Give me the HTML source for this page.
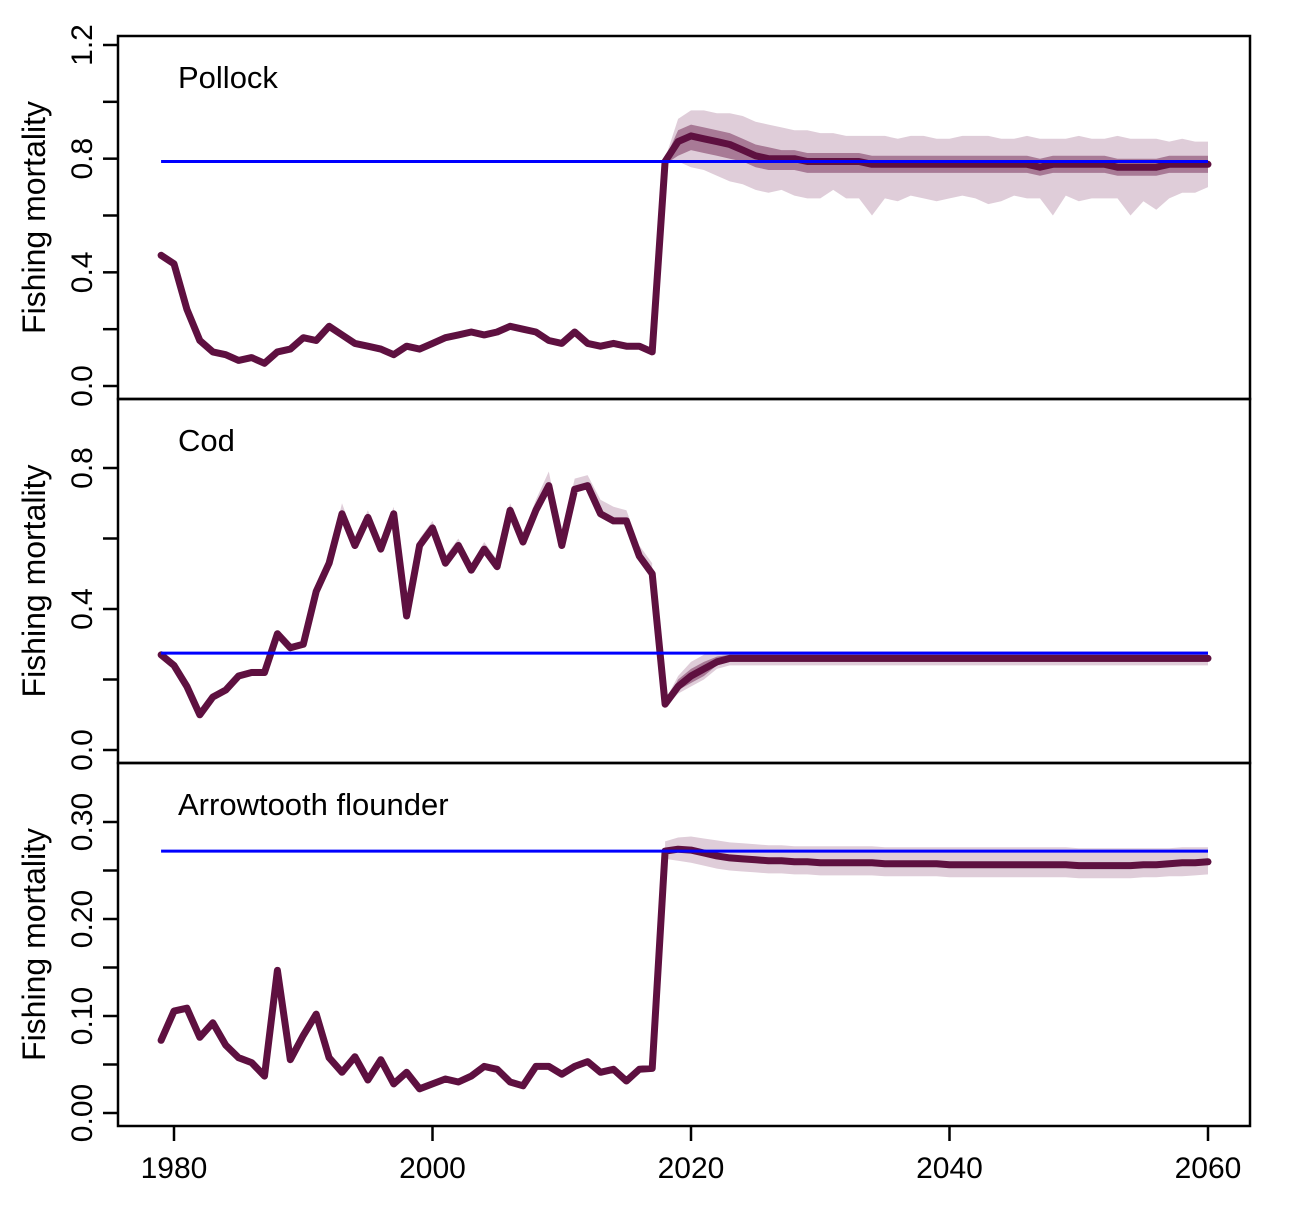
<!DOCTYPE html>
<html><head><meta charset="utf-8"><style>
html,body{margin:0;padding:0;background:#fff;}
svg text{font-family:"Liberation Sans",Arial,sans-serif;fill:#000;}
</style></head><body>
<svg id="chart" width="1290" height="1200" viewBox="0 0 1290 1200" xmlns="http://www.w3.org/2000/svg"></svg>
<script>
const histYears0 = 1979;
const projYears0 = 2018;
const xTicks = [1980, 2000, 2020, 2040, 2060];
const refPollock = 0.79, refCod = 0.275, refArrow = 0.27;

const pollockHist = [0.46,0.43,0.27,0.16,0.12,0.11,0.09,0.10,0.08,0.12,0.13,0.17,0.16,0.21,0.18,0.15,0.14,0.13,0.11,0.14,0.13,0.15,0.17,0.18,0.19,0.18,0.19,0.21,0.20,0.19,0.16,0.15,0.19,0.15,0.14,0.15,0.14,0.14,0.12];
const pollockProj = [0.79,0.86,0.88,0.87,0.86,0.85,0.83,0.81,0.80,0.80,0.80,0.79,0.79,0.79,0.79,0.79,0.78,0.78,0.78,0.78,0.78,0.78,0.78,0.78,0.78,0.78,0.78,0.78,0.78,0.77,0.78,0.78,0.78,0.78,0.78,0.77,0.77,0.77,0.77,0.78,0.78,0.78,0.78];
const pollockHi = [0.80,0.94,0.97,0.97,0.96,0.96,0.95,0.93,0.92,0.91,0.90,0.90,0.89,0.89,0.88,0.88,0.88,0.88,0.87,0.88,0.88,0.87,0.87,0.88,0.88,0.88,0.87,0.87,0.88,0.87,0.87,0.87,0.88,0.87,0.87,0.88,0.87,0.87,0.87,0.86,0.87,0.86,0.86];
const pollockLo = [0.78,0.79,0.77,0.76,0.74,0.72,0.71,0.69,0.68,0.69,0.67,0.66,0.66,0.69,0.66,0.66,0.60,0.66,0.65,0.67,0.66,0.65,0.66,0.67,0.66,0.64,0.65,0.67,0.66,0.66,0.60,0.67,0.65,0.66,0.66,0.66,0.60,0.65,0.62,0.66,0.68,0.68,0.70];
const pollockInHi = [0.80,0.90,0.92,0.91,0.90,0.89,0.87,0.85,0.84,0.83,0.83,0.82,0.82,0.82,0.82,0.82,0.81,0.81,0.81,0.81,0.81,0.81,0.81,0.81,0.81,0.81,0.81,0.81,0.81,0.80,0.81,0.81,0.81,0.81,0.81,0.80,0.80,0.80,0.80,0.81,0.81,0.81,0.81];
const pollockInLo = [0.78,0.81,0.83,0.82,0.81,0.80,0.79,0.77,0.76,0.76,0.76,0.75,0.75,0.75,0.75,0.75,0.75,0.75,0.75,0.75,0.75,0.75,0.75,0.75,0.75,0.75,0.75,0.75,0.75,0.74,0.75,0.75,0.75,0.75,0.75,0.74,0.74,0.74,0.74,0.75,0.75,0.75,0.75];

const codHist = [0.27,0.24,0.18,0.10,0.15,0.17,0.21,0.22,0.22,0.33,0.29,0.30,0.45,0.53,0.67,0.58,0.66,0.57,0.67,0.38,0.58,0.63,0.53,0.58,0.51,0.57,0.52,0.68,0.59,0.68,0.75,0.58,0.74,0.75,0.67,0.65,0.65,0.55,0.50];
const codHistHi = [0.28,0.25,0.19,0.11,0.16,0.18,0.22,0.23,0.23,0.34,0.30,0.31,0.47,0.55,0.70,0.60,0.68,0.59,0.69,0.40,0.60,0.65,0.55,0.60,0.53,0.59,0.54,0.70,0.61,0.71,0.79,0.61,0.77,0.78,0.71,0.69,0.68,0.58,0.53];
const codProj = [0.13,0.18,0.21,0.23,0.25,0.26,0.26,0.26,0.26,0.26,0.26,0.26,0.26,0.26,0.26,0.26,0.26,0.26,0.26,0.26,0.26,0.26,0.26,0.26,0.26,0.26,0.26,0.26,0.26,0.26,0.26,0.26,0.26,0.26,0.26,0.26,0.26,0.26,0.26,0.26,0.26,0.26,0.26];
const codHi = [0.14,0.21,0.25,0.27,0.28,0.28,0.28,0.28,0.28,0.28,0.28,0.28,0.28,0.28,0.28,0.28,0.28,0.28,0.28,0.28,0.28,0.28,0.28,0.28,0.28,0.28,0.28,0.28,0.28,0.28,0.28,0.28,0.28,0.28,0.28,0.28,0.28,0.28,0.28,0.28,0.28,0.28,0.28];
const codLo = [0.12,0.16,0.18,0.20,0.23,0.24,0.24,0.24,0.24,0.24,0.24,0.24,0.24,0.24,0.24,0.24,0.24,0.24,0.24,0.24,0.24,0.24,0.24,0.24,0.24,0.24,0.24,0.24,0.24,0.24,0.24,0.24,0.24,0.24,0.24,0.24,0.24,0.24,0.24,0.24,0.24,0.24,0.24];
const codInHi = [0.13,0.20,0.23,0.25,0.265,0.27,0.27,0.27,0.27,0.27,0.27,0.27,0.27,0.27,0.27,0.27,0.27,0.27,0.27,0.27,0.27,0.27,0.27,0.27,0.27,0.27,0.27,0.27,0.27,0.27,0.27,0.27,0.27,0.27,0.27,0.27,0.27,0.27,0.27,0.27,0.27,0.27,0.27];
const codInLo = [0.12,0.17,0.19,0.21,0.24,0.25,0.25,0.25,0.25,0.25,0.25,0.25,0.25,0.25,0.25,0.25,0.25,0.25,0.25,0.25,0.25,0.25,0.25,0.25,0.25,0.25,0.25,0.25,0.25,0.25,0.25,0.25,0.25,0.25,0.25,0.25,0.25,0.25,0.25,0.25,0.25,0.25,0.25];

const arrowHist = [0.075,0.105,0.108,0.078,0.093,0.070,0.057,0.052,0.038,0.147,0.055,0.080,0.102,0.057,0.042,0.058,0.034,0.055,0.030,0.042,0.025,0.030,0.035,0.032,0.038,0.048,0.045,0.032,0.028,0.048,0.048,0.040,0.048,0.053,0.042,0.045,0.033,0.045,0.046];
const arrowProj = [0.270,0.272,0.271,0.268,0.265,0.263,0.262,0.261,0.260,0.260,0.259,0.259,0.258,0.258,0.258,0.258,0.258,0.257,0.257,0.257,0.257,0.257,0.256,0.256,0.256,0.256,0.256,0.256,0.256,0.256,0.256,0.256,0.255,0.255,0.255,0.255,0.255,0.256,0.256,0.257,0.258,0.258,0.259];
const arrowHi = [0.280,0.284,0.285,0.283,0.281,0.279,0.278,0.277,0.276,0.276,0.275,0.275,0.275,0.275,0.275,0.275,0.275,0.274,0.274,0.274,0.274,0.274,0.274,0.274,0.274,0.274,0.274,0.274,0.274,0.274,0.274,0.274,0.273,0.273,0.273,0.273,0.273,0.273,0.273,0.273,0.274,0.274,0.274];
const arrowLo = [0.262,0.260,0.258,0.255,0.252,0.250,0.249,0.248,0.247,0.247,0.246,0.246,0.245,0.245,0.245,0.245,0.245,0.244,0.244,0.244,0.244,0.244,0.243,0.243,0.243,0.243,0.243,0.243,0.243,0.243,0.243,0.243,0.242,0.242,0.242,0.242,0.242,0.243,0.243,0.244,0.244,0.245,0.246];

const svg = document.getElementById('chart');
const NS = 'http://www.w3.org/2000/svg';
const X0 = 118, X1 = 1250;
function xS(year){ return 174 + (year - 1980) * (1208 - 174) / 80; }
function mk(tag, attrs, parent){
  const e = document.createElementNS(NS, tag);
  for (const k in attrs) e.setAttribute(k, attrs[k]);
  (parent || svg).appendChild(e);
  return e;
}
function linePath(y0, vals, yS){ return vals.map((v,i)=>(i?'L':'M')+xS(y0+i).toFixed(1)+','+yS(v).toFixed(1)).join(''); }
function bandPath(y0, hi, lo, yS){
  let d = hi.map((v,i)=>(i?'L':'M')+xS(y0+i).toFixed(1)+','+yS(v).toFixed(1)).join('');
  for (let i=lo.length-1;i>=0;i--) d += 'L'+xS(y0+i).toFixed(1)+','+yS(lo[i]).toFixed(1);
  return d+'Z';
}

const panels = [
  {name:'pollock', title:'Pollock', top:36, bot:399, y0px:386, yMax:1.2, yMaxPx:45, ticks:[0,0.2,0.4,0.6,0.8,1.0,1.2], labels:[[0,'0.0'],[0.4,'0.4'],[0.8,'0.8'],[1.2,'1.2']],
   hist:pollockHist, proj:pollockProj, hi:pollockHi, lo:pollockLo, inHi:pollockInHi, inLo:pollockInLo, ref:refPollock},
  {name:'cod', title:'Cod', top:399, bot:763, y0px:750, yMax:0.8, yMaxPx:468, ticks:[0,0.2,0.4,0.6,0.8], labels:[[0,'0.0'],[0.4,'0.4'],[0.8,'0.8']],
   hist:codHist, proj:codProj, hi:codHi, lo:codLo, inHi:codInHi, inLo:codInLo, ref:refCod},
  {name:'arrowtooth', title:'Arrowtooth flounder', top:763, bot:1126, y0px:1113, yMax:0.30, yMaxPx:822, ticks:[0,0.05,0.10,0.15,0.20,0.25,0.30], labels:[[0,'0.00'],[0.10,'0.10'],[0.20,'0.20'],[0.30,'0.30']],
   hist:arrowHist, proj:arrowProj, hi:arrowHi, lo:arrowLo, ref:refArrow}
];

panels.forEach(p=>{
  const yS = v => p.y0px + (p.yMaxPx - p.y0px) * v / p.yMax;
  const g = mk('g', {});
  
  
  const clip = mk('clipPath', {id:'clip-'+p.name}, g);
  mk('rect', {x:X0, y:p.top, width:X1-X0, height:p.bot-p.top}, clip);
  const plot = mk('g', {'clip-path':'url(#clip-'+p.name+')'}, g);
  if (p.name === 'cod') {
    const hb = mk('path', {d:bandPath(histYears0, codHistHi, codHist, yS), fill:'#dfcdd9'}, plot);
    
    
  }
  const ob = mk('path', {d:bandPath(projYears0, p.hi, p.lo, yS), fill:'#dfcdd9'}, plot);
  
  
  if (p.inHi) {
    const ib = mk('path', {d:bandPath(projYears0, p.inHi, p.inLo, yS), fill:'#a87a96'}, plot);
    
    
  }
  const full = p.hist.concat(p.proj);
  const ln = mk('path', {d:linePath(histYears0, full, yS), fill:'none', stroke:'#5e1040', 'stroke-width':7, 'stroke-linejoin':'round', 'stroke-linecap':'round'}, plot);
  
  
  const rl = mk('line', {x1:xS(1979), x2:xS(2060), y1:yS(p.ref), y2:yS(p.ref), stroke:'#0000ff', 'stroke-width':3}, plot);
  
  
  const box = mk('rect', {x:X0, y:p.top, width:X1-X0, height:p.bot-p.top, fill:'none', stroke:'#000', 'stroke-width':2.5}, g);
  
  
  p.ticks.forEach(t=>{
    const tk = mk('line', {x1:X0-15, x2:X0, y1:yS(t), y2:yS(t), stroke:'#000', 'stroke-width':2.5}, g);
    
    
  });
  p.labels.forEach(([v,s])=>{
    const y = yS(v);
    const tx = mk('text', {x:0, y:0, 'font-size':30, 'text-anchor':'middle', transform:'translate(92,'+y+') rotate(-90)'}, g);
    tx.textContent = s;
    
    
  });
  const yt = mk('text', {x:0, y:0, 'font-size':32, 'text-anchor':'middle', transform:'translate(45,'+((p.top+p.bot)/2)+') rotate(-90)'}, g);
  yt.textContent = 'Fishing mortality';
  
  
  const tt = mk('text', {x:178, y:p.top+52, 'font-size':31}, g);
  tt.textContent = p.title;
  
  
});

const xa = mk('g', {});


xTicks.forEach(t=>{
  const tk = mk('line', {x1:xS(t), x2:xS(t), y1:1126, y2:1141, stroke:'#000', 'stroke-width':2.5}, xa);
  
  
  const tx = mk('text', {x:xS(t), y:1178, 'font-size':30, 'text-anchor':'middle'}, xa);
  tx.textContent = t;
  
  
});
</script>
</body></html>
